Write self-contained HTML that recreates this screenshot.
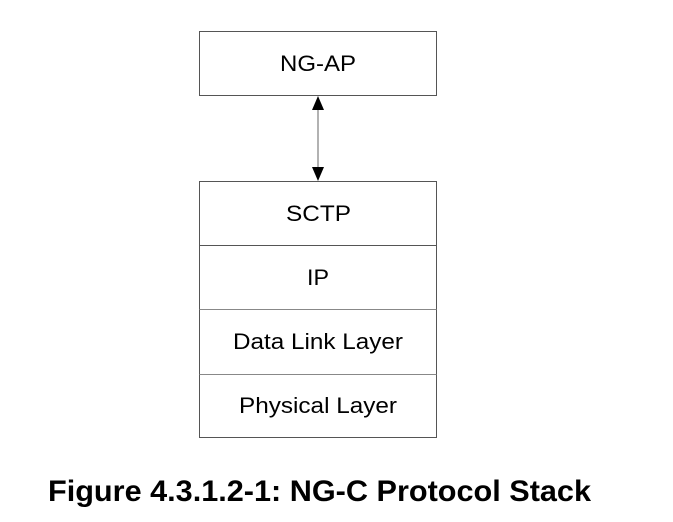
<!DOCTYPE html>
<html><head><style>body{margin:0;background:#fff}</style></head>
<body>
<svg width="673" height="517" xmlns="http://www.w3.org/2000/svg" font-family="Liberation Sans, Arial, sans-serif">
<rect x="199.5" y="31.5" width="237" height="64" fill="#fff" stroke="#555" stroke-width="1"/>
<text x="280" y="71" font-size="22" textLength="76" lengthAdjust="spacingAndGlyphs">NG-AP</text>
<line x1="318" y1="108" x2="318" y2="168" stroke="#999" stroke-width="1.5"/>
<polygon points="318,96 312,110 324,110" fill="#000"/>
<polygon points="318,181 312,167 324,167" fill="#000"/>
<rect x="199.5" y="181.5" width="237" height="256" fill="#fff" stroke="#555" stroke-width="1"/>
<line x1="199.5" y1="245.5" x2="436.5" y2="245.5" stroke="#555"/>
<line x1="199.5" y1="309.5" x2="436.5" y2="309.5" stroke="#888"/>
<line x1="199.5" y1="374.5" x2="436.5" y2="374.5" stroke="#888"/>
<text x="286" y="221" font-size="22" textLength="65" lengthAdjust="spacingAndGlyphs">SCTP</text>
<text x="307" y="285" font-size="22" textLength="22" lengthAdjust="spacingAndGlyphs">IP</text>
<text x="233" y="349" font-size="22" textLength="170" lengthAdjust="spacingAndGlyphs">Data Link Layer</text>
<text x="239" y="413" font-size="22" textLength="158" lengthAdjust="spacingAndGlyphs">Physical Layer</text>
<text x="48" y="501" font-size="30" font-weight="bold" textLength="543" lengthAdjust="spacingAndGlyphs">Figure 4.3.1.2-1: NG-C Protocol Stack</text>
</svg>
</body></html>
